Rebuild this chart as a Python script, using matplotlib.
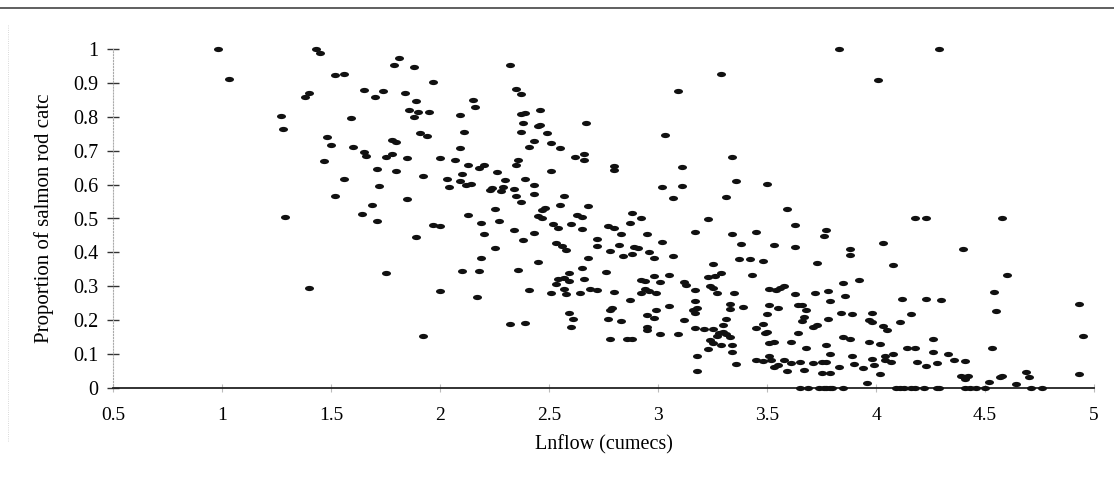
import matplotlib
matplotlib.use("Agg")
import matplotlib.pyplot as plt
from matplotlib.path import Path
from matplotlib.transforms import Affine2D
from matplotlib.lines import Line2D

# ln(flow) in cumecs
lnflow = [
    0.98, 1.03, 1.43, 1.45, 1.81, 1.79, 1.88, 1.52, 1.56, 1.97, 1.65, 1.74, 1.70, 1.84, 1.40,
    1.38, 1.89, 1.86, 1.90, 1.95, 1.88, 1.27, 1.28, 1.59, 1.91, 1.94, 1.48, 1.50, 1.60, 1.78,
    1.80, 1.65, 1.66, 1.75, 1.78, 1.85, 2.00, 1.47, 1.71, 1.80, 1.92, 2.03, 2.04, 1.56, 1.72,
    1.52, 1.85, 1.69, 1.64, 1.29, 1.71, 1.89, 1.97, 2.00, 1.75, 1.40, 2.00, 1.92,
    # 2 - 3.1, upper part
    2.32, 3.09, 2.35, 2.37, 2.15, 2.16, 2.09, 2.37, 2.39, 2.46, 2.38, 2.45, 2.46, 2.67, 2.37,
    2.49, 2.11, 3.03, 2.43, 2.51, 2.41, 2.55, 2.09, 2.07, 2.13, 2.18, 2.20, 2.36, 2.35, 2.62,
    2.66, 2.66, 2.26, 2.51, 2.80, 2.80, 3.11, 2.10, 2.09, 2.12, 2.14, 2.30, 2.39, 2.43, 2.24,
    2.23, 2.29, 2.28, 2.34, 2.35, 2.43, 2.37, 2.57, 3.02, 3.11, 3.07, 2.55, 2.68, 2.48, 2.47,
    2.25, 2.13, 2.45, 2.47, 2.63, 2.65, 2.88, 2.92,
    # 2 - 3.2, lower part
    2.19, 2.27, 2.20, 2.34, 2.43, 2.52, 2.54, 2.60, 2.65, 2.77, 2.80, 2.87, 2.83, 2.95, 3.17,
    2.38, 2.25, 2.53, 2.56, 2.58, 2.72, 2.72, 2.82, 2.78, 2.89, 2.91, 3.02, 2.84, 2.88, 2.96,
    2.98, 3.07, 2.19, 2.45, 2.68, 2.10, 2.18, 2.36, 2.65, 2.76, 2.59, 2.54, 2.57, 2.59, 2.66,
    2.53, 2.57, 2.51, 2.58, 2.64, 2.69, 2.72, 2.92, 2.94, 2.98, 3.01, 3.05, 3.12, 3.13, 2.94,
    2.96, 2.99, 2.92, 2.80, 3.17, 2.41, 2.17, 2.87, 2.79, 2.78, 3.05, 2.99, 3.17, 3.16, 3.18,
    2.59, 2.61, 2.60, 2.77, 2.83, 2.95, 2.98, 3.12, 2.95, 2.95, 3.01, 3.09, 3.17, 2.32, 2.39,
    2.78, 2.86, 2.88, 3.18, 3.18,
    # 3.2 - 4.3, upper part
    3.83, 4.29, 3.29, 4.01, 3.34, 3.36, 3.50, 3.31, 3.59, 3.23, 4.18, 4.23,
    # 3.2 - 4.3, lower part
    3.63, 3.34, 3.45, 3.38, 3.53, 3.63, 3.76, 3.77, 4.03, 3.88, 3.88, 3.25, 3.37, 3.42, 3.48,
    3.73, 4.08, 3.23, 3.26, 3.29, 3.43, 3.92, 3.85, 3.24, 3.25, 3.27, 3.35, 3.51, 3.54, 3.56,
    3.58, 3.63, 3.72, 3.78, 3.86, 4.12, 4.23, 4.30, 3.17, 3.33, 3.33, 3.39, 3.51, 3.55, 3.50,
    3.64, 3.66, 3.68, 3.67, 3.66, 3.79, 3.78, 3.84, 3.89, 3.98, 3.97, 3.98, 4.03, 4.05, 4.11,
    4.16, 3.31, 3.30, 3.21, 3.25, 3.28, 3.30, 3.31, 3.33, 3.27, 3.24, 3.25, 3.29, 3.34, 3.23,
    3.34, 3.45, 3.48, 3.49, 3.50, 3.51, 3.53, 3.61, 3.64, 3.71, 3.73, 3.68, 3.77, 3.79, 3.85,
    3.88, 3.97, 4.02, 4.14, 4.18, 4.26, 4.26, 4.33, 3.36, 3.45, 3.48, 3.52, 3.51, 3.53, 3.55,
    3.58, 3.59, 3.61, 3.65, 3.67, 3.71, 3.75, 3.77, 3.75, 3.79, 3.83, 3.89, 3.90, 3.94, 3.98,
    3.99, 4.04, 4.04, 4.08, 4.07, 4.02, 3.96, 4.19, 4.23, 4.28,
    3.65, 3.69, 3.74, 3.76, 3.77, 3.79, 3.80, 3.85, 4.09, 4.11, 4.13, 4.16, 4.18, 4.22, 4.28,
    4.29,
    # above 4.3
    4.58, 4.40, 4.60, 4.54, 4.55, 4.93, 4.95, 4.93, 4.53, 4.36, 4.41, 4.39, 4.42, 4.41, 4.57,
    4.58, 4.52, 4.64, 4.69, 4.70,
    4.41, 4.43, 4.46, 4.50, 4.71, 4.76,
]

# proportion of salmon rod catch, same order as lnflow
catch_prop = [
    1.000, 0.911, 1.000, 0.988, 0.974, 0.953, 0.947, 0.923, 0.926, 0.904, 0.879, 0.876, 0.857, 0.869, 0.869,
    0.858, 0.846, 0.820, 0.813, 0.813, 0.799, 0.802, 0.763, 0.796, 0.752, 0.743, 0.739, 0.717, 0.712, 0.731,
    0.725, 0.695, 0.685, 0.681, 0.690, 0.678, 0.678, 0.669, 0.645, 0.639, 0.625, 0.617, 0.593, 0.617, 0.595,
    0.566, 0.558, 0.540, 0.513, 0.503, 0.493, 0.445, 0.480, 0.477, 0.338, 0.294, 0.286, 0.153,
    0.952, 0.877, 0.881, 0.868, 0.849, 0.828, 0.804, 0.808, 0.811, 0.819, 0.782, 0.774, 0.776, 0.782, 0.754,
    0.751, 0.754, 0.747, 0.730, 0.723, 0.711, 0.708, 0.709, 0.673, 0.657, 0.649, 0.658, 0.672, 0.659, 0.681,
    0.689, 0.672, 0.638, 0.640, 0.655, 0.644, 0.651, 0.631, 0.611, 0.599, 0.601, 0.614, 0.617, 0.598, 0.590,
    0.583, 0.593, 0.580, 0.586, 0.565, 0.573, 0.549, 0.566, 0.592, 0.597, 0.560, 0.540, 0.537, 0.531, 0.526,
    0.527, 0.511, 0.508, 0.502, 0.511, 0.503, 0.517, 0.501,
    0.488, 0.492, 0.455, 0.466, 0.457, 0.483, 0.471, 0.483, 0.470, 0.479, 0.473, 0.488, 0.455, 0.455, 0.460,
    0.437, 0.412, 0.427, 0.419, 0.407, 0.439, 0.419, 0.423, 0.405, 0.415, 0.414, 0.431, 0.390, 0.396, 0.400,
    0.383, 0.388, 0.383, 0.371, 0.383, 0.346, 0.344, 0.349, 0.354, 0.343, 0.338, 0.322, 0.324, 0.315, 0.322,
    0.306, 0.292, 0.280, 0.277, 0.279, 0.292, 0.290, 0.319, 0.316, 0.330, 0.314, 0.332, 0.312, 0.305, 0.293,
    0.287, 0.280, 0.279, 0.282, 0.289, 0.288, 0.268, 0.260, 0.235, 0.230, 0.242, 0.230, 0.256, 0.230, 0.237,
    0.221, 0.203, 0.180, 0.203, 0.198, 0.215, 0.207, 0.201, 0.179, 0.171, 0.158, 0.158, 0.176, 0.188, 0.193,
    0.145, 0.145, 0.145, 0.094, 0.049,
    1.000, 0.999, 0.925, 0.909, 0.681, 0.612, 0.602, 0.564, 0.528, 0.499, 0.502, 0.502,
    0.482, 0.453, 0.459, 0.426, 0.423, 0.415, 0.449, 0.467, 0.429, 0.410, 0.392, 0.366, 0.380, 0.380, 0.376,
    0.369, 0.362, 0.328, 0.330, 0.339, 0.332, 0.319, 0.311, 0.302, 0.296, 0.279, 0.281, 0.291, 0.289, 0.296,
    0.301, 0.277, 0.279, 0.286, 0.271, 0.264, 0.262, 0.259, 0.220, 0.248, 0.234, 0.240, 0.244, 0.236, 0.219,
    0.245, 0.246, 0.229, 0.210, 0.198, 0.258, 0.204, 0.222, 0.217, 0.220, 0.201, 0.196, 0.182, 0.171, 0.194,
    0.219, 0.204, 0.185, 0.174, 0.175, 0.163, 0.166, 0.159, 0.151, 0.154, 0.142, 0.132, 0.128, 0.128, 0.114,
    0.106, 0.178, 0.189, 0.162, 0.165, 0.132, 0.135, 0.135, 0.163, 0.179, 0.186, 0.118, 0.127, 0.101, 0.150,
    0.145, 0.137, 0.131, 0.119, 0.119, 0.145, 0.106, 0.101, 0.070, 0.083, 0.079, 0.082, 0.094, 0.063, 0.068,
    0.083, 0.049, 0.075, 0.077, 0.053, 0.073, 0.077, 0.076, 0.044, 0.044, 0.061, 0.093, 0.070, 0.060, 0.085,
    0.069, 0.095, 0.082, 0.099, 0.078, 0.041, 0.015, 0.076, 0.065, 0.073,
    0.0, 0.0, 0.0, 0.0, 0.0, 0.0, 0.0, 0.0, 0.0, 0.0, 0.0, 0.0, 0.0, 0.0, 0.0,
    0.0,
    0.500, 0.409, 0.332, 0.284, 0.227, 0.247, 0.154, 0.042, 0.118, 0.083, 0.080, 0.036, 0.036, 0.026, 0.032,
    0.035, 0.018, 0.013, 0.047, 0.033,
    0.0, 0.0, 0.0, 0.0, 0.0, 0.0,
]

x_ticks = [0.5, 1, 1.5, 2, 2.5, 3, 3.5, 4, 4.5, 5]
y_ticks = [0, 0.1, 0.2, 0.3, 0.4, 0.5, 0.6, 0.7, 0.8, 0.9, 1]

plt.rcParams["font.family"] = ["Liberation Serif", "DejaVu Serif"]

fig = plt.figure(figsize=(11.14, 4.9), dpi=100)
ax = fig.add_axes([113 / 1114, 1 - 388 / 490, (1094 - 113) / 1114, (388 - 49) / 490])

# flattened blob marker like the scanned dots
blob = Path.unit_circle().transformed(Affine2D().scale(1.0, 0.58))
ax.scatter(lnflow, catch_prop, marker=blob, s=42, color="#111111",
           linewidths=0, clip_on=False, zorder=3)

ax.set_xlim(0.5, 5)
ax.set_ylim(0, 1)
ax.set_xticks(x_ticks)
ax.set_xticklabels(["%g" % v for v in x_ticks])
ax.set_yticks(y_ticks)
ax.set_yticklabels(["%g" % v for v in y_ticks])

for side in ["top", "right"]:
    ax.spines[side].set_visible(False)
ax.spines["bottom"].set_color("#222222")
ax.spines["bottom"].set_linewidth(1.3)
ax.spines["left"].set_color("#aaaaaa")
ax.spines["left"].set_linestyle(":")
ax.spines["left"].set_linewidth(0.8)

ax.tick_params(axis="y", direction="inout", length=9, width=1.0, color="#333333",
               labelsize=14.5, pad=6)
ax.tick_params(axis="x", direction="inout", length=6, width=0.8, color="#bbbbbb",
               labelsize=14, pad=10.5)

ax.set_xlabel("Lnflow (cumecs)", fontsize=14.5, labelpad=8)
ax.set_ylabel("Proportion of salmon rod catc", fontsize=15, labelpad=14)

# scan border along the top and faint edge on the left
fig.add_artist(Line2D([0, 1], [1 - 8 / 490, 1 - 8 / 490], color="#444444", lw=1.2))
fig.add_artist(Line2D([8 / 1114, 8 / 1114], [0.1, 0.95], color="#cccccc", lw=0.6,
                      linestyle=":"))

fig.savefig("out.png", dpi=100)
